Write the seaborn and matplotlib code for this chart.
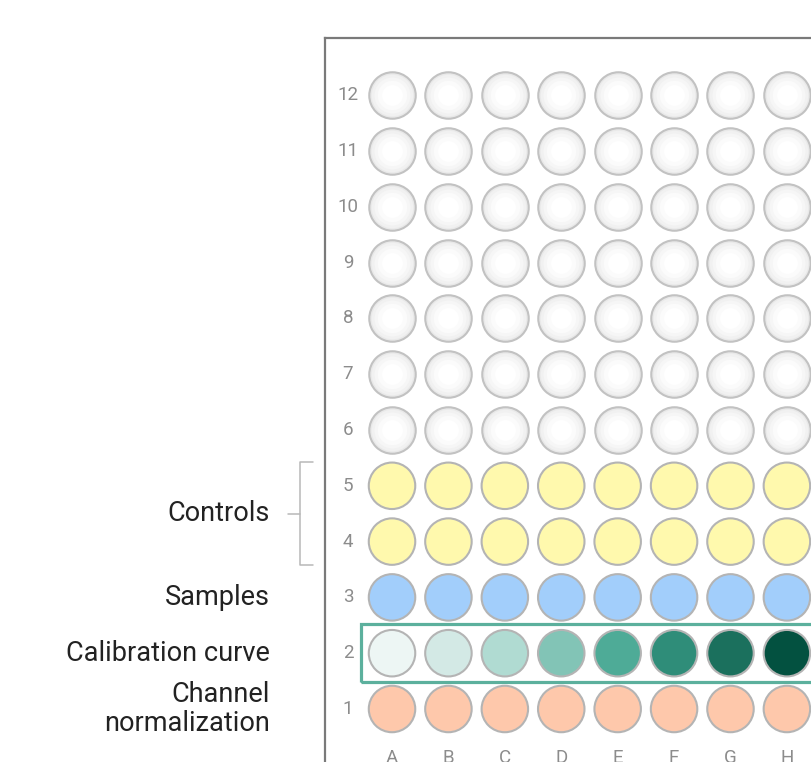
import pandas as pd
import numpy as np

import matplotlib.pyplot as plt
import seaborn as sb
from matplotlib.patches import Rectangle

sb.set_style("white")
plt.rcParams["font.family"] = ["Roboto", "DejaVu Sans"]

# plate layout
columns = ["A", "B", "C", "D", "E", "F", "G", "H"]
rows = [1, 2, 3, 4, 5, 6, 7, 8, 9, 10, 11, 12]

row_groups = {1: "Channel normalization", 2: "Calibration curve", 3: "Samples",
              4: "Controls", 5: "Controls"}
group_colors = {"Channel normalization": "#fec8ab", "Samples": "#a2cefb",
                "Controls": "#fff9ad", "Empty": "#f3f3f3"}
calibration_colors = ["#edf6f4", "#d3e9e5", "#b0dbd2", "#82c4b6",
                      "#4eab97", "#2f8d79", "#1b705d", "#035140"]

group_labels = ["Controls", "Samples", "Calibration curve", "Channel\nnormalization"]
group_label_rows = [4.5, 3, 2, 1]


def build_wells():
    recs = []
    for r in rows:
        grp = row_groups.get(r, "Empty")
        for i, c in enumerate(columns):
            if grp == "Calibration curve":
                fill = calibration_colors[i]
            else:
                fill = group_colors[grp]
            recs.append({"col": c, "x": i, "row": r, "group": grp, "fill": fill})
    return pd.DataFrame(recs)


wells = build_wells()

fig = plt.figure(figsize=(8.12, 7.62), dpi=100)
# plate box runs off the right and bottom edge of the picture
ax = fig.add_axes([325 / 812, 1 - 775 / 762, 520 / 812, 737 / 762])
ax.set_xlim(-1.188, 8.03)
ax.set_ylim(-0.183, 13.025)

well_size = 1120
filled = wells[wells["group"] != "Empty"]
empty = wells[wells["group"] == "Empty"]

sb.scatterplot(data=filled, x="x", y="row", hue="fill",
               palette={f: f for f in filled["fill"].unique()},
               s=well_size, edgecolor="#b4b4b4", linewidth=1.5,
               legend=False, ax=ax, zorder=3)

# empty wells: fake a soft radial shading with a few layers
sb.scatterplot(data=empty, x="x", y="row", color="#e9e9e9", s=well_size,
               edgecolor="#c2c2c2", linewidth=1.5, legend=False, ax=ax, zorder=3)
for s_frac, col in [(0.8, "#f1f1f1"), (0.6, "#f6f6f6"), (0.4, "#fbfbfb"), (0.2, "#ffffff")]:
    sb.scatterplot(data=empty, x="x", y="row", color=col, s=well_size * s_frac,
                   linewidth=0, legend=False, ax=ax, zorder=4)

# calibration row highlight
ax.add_patch(Rectangle((-0.55, 1.484), 10, 1.04, fill=False,
                       edgecolor="#5cb09d", linewidth=2.3, zorder=2))

# row and column labels inside the plate
for r in rows:
    ax.text(-0.78, r, str(r), ha="center", va="center", fontsize=13.5, color="#8c8c8c")
for i, c in enumerate(columns):
    ax.text(i, 0.12, c, ha="center", va="center", fontsize=13.5, color="#8c8c8c")

# group labels on the left
for lab, yr in zip(group_labels, group_label_rows):
    ax.text(-2.16, yr, lab, ha="right", va="center", fontsize=19.5,
            color="#222222", linespacing=1.05, clip_on=False)

# bracket for the controls
ax.plot([-1.40, -1.63, -1.63, -1.40], [5.43, 5.43, 3.58, 3.58],
        color="#b8b8b8", linewidth=1.1, clip_on=False)
ax.plot([-1.84, -1.63], [4.5, 4.5], color="#b8b8b8", linewidth=1.1, clip_on=False)

ax.set_xticks([])
ax.set_yticks([])
ax.set_xlabel("")
ax.set_ylabel("")
for sp in ax.spines.values():
    sp.set_color("#7a7a7a")
    sp.set_linewidth(1.6)

plt.savefig("out.png", dpi=100)
